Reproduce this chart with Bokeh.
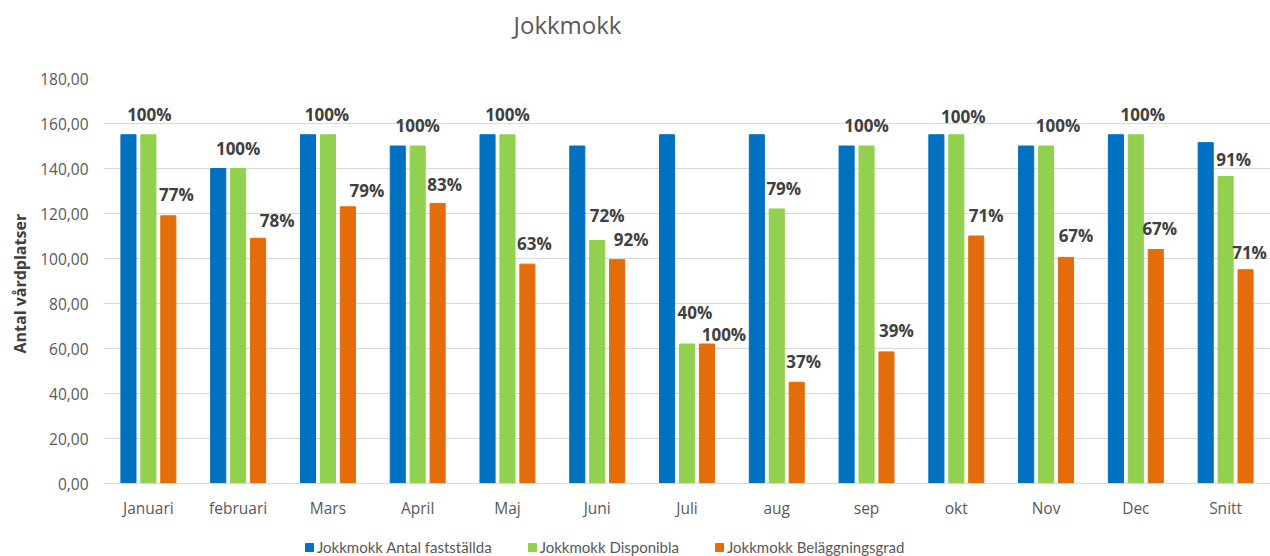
from bokeh.plotting import figure
from bokeh.models import (ColumnDataSource, FactorRange, Range1d, FixedTicker,
                          CustomJSTickFormatter, Legend, LegendItem, Title)
from bokeh.transform import dodge
from bokeh.core.properties import value
from bokeh.embed import file_html
from bokeh.resources import INLINE

# ---- data ----
months = ["Januari", "februari", "Mars", "April", "Maj", "Juni", "Juli",
          "aug", "sep", "okt", "Nov", "Dec", "Snitt"]
faststallda = [155, 140, 155, 150, 155, 150, 155, 155, 150, 155, 150, 155, 151.5]
disponibla = [155, 140, 155, 150, 155, 108, 62, 122, 150, 155, 150, 155, 136.5]
belaggning = [119, 109, 123, 124.5, 97.5, 99.5, 62, 45, 58.5, 110, 100.5, 104, 95]
disp_labels = ["100%", "100%", "100%", "100%", "100%", "72%", "40%", "79%",
               "100%", "100%", "100%", "100%", "91%"]
bel_labels = ["77%", "78%", "79%", "83%", "63%", "92%", "100%", "37%", "39%",
              "71%", "67%", "67%", "71%"]
y_ticks = [0, 20, 40, 60, 80, 100, 120, 140, 160, 180]
series_names = ["Jokkmokk Antal fastställda", "Jokkmokk Disponibla",
                "Jokkmokk Beläggningsgrad"]
title_text = "Jokkmokk"
y_label = "Antal vårdplatser"

# ---- style ----
C_BLUE, C_GREEN, C_ORANGE = "#0070C0", "#92D050", "#E46C0A"
TXT = "#595959"
LBL = "#404040"
FONT = "Open Sans"
# pixel nudges of the data labels (as placed in the original chart)
disp_dx = [1, 0, -1, 0, 0, 10, 8, 7, 0, 7, 12, 7, 8]
disp_dy = [-20, -20, -20, -21, -20, -25, -32, -21, -21, -18, -21, -20, -17]
bel_dx = [8, 19, 19, 7, 7, 14, 17, 7, 10, 10, 10, 4, 4]
bel_dy = [-21, -18, -16, -19, -21, -20, -10, -21, -21, -21, -22, -21, -17]

source = ColumnDataSource(dict(month=months, fast=faststallda, disp=disponibla,
                               bel=belaggning, dlab=disp_labels, blab=bel_labels,
                               ddx=disp_dx, ddy=disp_dy, bdx=bel_dx, bdy=bel_dy))

# frame runs to the bottom edge; the value axis 0..180 occupies its upper part,
# the room below 0 holds the category labels and the legend
Y_MAX = 180
Y_MIN = -32.44

p = figure(width=1270, height=556, output_backend="svg", toolbar_location=None,
           x_range=FactorRange(*months, range_padding=0),
           y_range=Range1d(Y_MIN, Y_MAX),
           min_border_left=103, min_border_right=0, min_border_top=78,
           min_border_bottom=0)

p.title.text = title_text + "\n"
p.title.align = "left"
p.title.offset = 410
p.title.text_font = FONT
p.title.text_font_size = "24px"
p.title.text_font_style = "normal"
p.title.text_color = TXT
p.title.standoff = 10

bw = 0.168
off = 0.222
r1 = p.vbar(x=dodge("month", -off, range=p.x_range), top="fast", width=bw,
            source=source, fill_color=C_BLUE, line_color=C_BLUE)
r2 = p.vbar(x=dodge("month", 0, range=p.x_range), top="disp", width=bw,
            source=source, fill_color=C_GREEN, line_color=C_GREEN)
r3 = p.vbar(x=dodge("month", off, range=p.x_range), top="bel", width=bw,
            source=source, fill_color=C_ORANGE, line_color=C_ORANGE)

p.text(x=dodge("month", 0, range=p.x_range), y="disp", text="dlab", source=source,
       text_align="center", text_baseline="middle", x_offset="ddx", y_offset="ddy",
       text_font=value(FONT), text_font_size="17px", text_font_style="bold",
       text_color=LBL)
p.text(x=dodge("month", off, range=p.x_range), y="bel", text="blab", source=source,
       text_align="center", text_baseline="middle", x_offset="bdx", y_offset="bdy",
       text_font=value(FONT), text_font_size="17px", text_font_style="bold",
       text_color=LBL)

# value axis
p.yaxis.ticker = FixedTicker(ticks=y_ticks)
p.yaxis.formatter = CustomJSTickFormatter(code="return tick.toFixed(2).replace('.', ',');")
p.yaxis.axis_line_color = None
p.yaxis.major_tick_line_color = None
p.yaxis.minor_tick_line_color = None
p.yaxis.major_tick_out = 0
p.yaxis.minor_tick_out = 0
p.yaxis.major_label_standoff = 15
p.yaxis.major_label_text_font = FONT
p.yaxis.major_label_text_font_size = "15.5px"
p.yaxis.major_label_text_color = TXT

ytitle = Title(text=y_label, align="left", offset=203, vertical_align="middle",
               standoff=12, text_font=FONT, text_font_size="16px",
               text_font_style="bold", text_color=LBL)
p.add_layout(ytitle, "left")

# category axis drawn at value 0
p.xaxis.fixed_location = 0
p.xaxis.axis_line_color = "#D9D9D9"
p.xaxis.major_tick_line_color = None
p.xaxis.minor_tick_line_color = None
p.xaxis.major_tick_out = 0
p.xaxis.minor_tick_out = 0
p.xaxis.major_label_standoff = 13
p.xaxis.major_label_text_font = FONT
p.xaxis.major_label_text_font_size = "15.5px"
p.xaxis.major_label_text_color = TXT

p.xgrid.grid_line_color = None
p.ygrid.grid_line_color = "#D9D9D9"
p.outline_line_color = None

legend = Legend(items=[LegendItem(label=series_names[0], renderers=[r1]),
                       LegendItem(label=series_names[1], renderers=[r2]),
                       LegendItem(label=series_names[2], renderers=[r3])],
                orientation="horizontal", location=(201, 0),
                glyph_width=10, glyph_height=10, label_standoff=3, spacing=35,
                padding=0, margin=0, background_fill_alpha=0, border_line_color=None,
                label_text_font="Lato", label_text_font_size="15px",
                label_text_color=TXT)
p.add_layout(legend, "center")

open("out.html", "w").write(file_html(p, INLINE))
